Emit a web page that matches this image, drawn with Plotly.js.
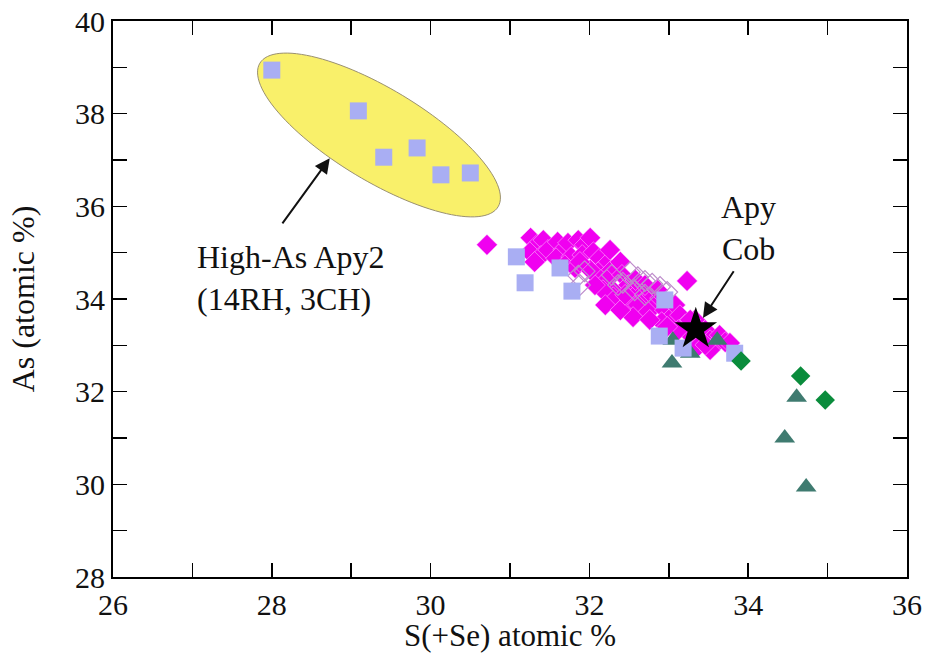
<!DOCTYPE html>
<html><head><meta charset="utf-8">
<script src="https://cdn.plot.ly/plotly-3.0.1.min.js"></script>
<style>html,body{margin:0;padding:0;background:#fff}</style>
</head><body><div id="chart" style="width:930px;height:668px"></div>
<script>
// Magenta filled diamonds
const apyMagX = [30.71,31.26,31.34,31.42,31.25,31.39,31.48,31.31,31.60,31.67,31.73,31.58,31.77,31.69,31.86,31.94,32.01,31.91,32.05,31.82,32.13,32.20,32.11,32.26,32.28,32.22,32.39,32.41,32.49,32.32,32.51,32.64,32.70,32.61,32.79,32.83,32.74,32.89,32.95,33.02,32.91,33.08,33.14,33.20,33.27,33.12,33.33,33.39,33.46,33.52,33.58,33.64,33.71,33.23,32.30,32.17,32.07,32.01,33.36,33.52,33.77,32.55,32.20,32.39,32.98,32.76,32.45,32.58,31.88,32.70,32.86,33.27,33.46];
const apyMagY = [35.17,35.32,35.17,35.27,35.01,34.93,35.06,34.80,35.23,35.06,35.21,34.88,34.91,34.73,35.27,35.17,35.32,34.95,35.01,34.67,34.88,34.73,34.58,35.06,34.63,34.41,34.80,34.52,34.30,34.15,33.98,34.19,33.98,33.87,34.09,33.87,33.72,34.02,33.76,33.59,33.50,33.87,33.65,33.44,33.22,33.33,33.55,33.16,33.33,33.11,33.01,33.22,33.07,34.39,34.04,34.19,34.30,34.63,32.96,32.90,33.05,33.61,33.87,33.76,33.40,33.55,34.09,34.41,34.80,34.30,34.19,33.55,33.01];
// Open diamonds
const apyOpenX = [31.86,31.94,31.88,32.51,32.61,32.70,32.79,32.89,32.98,32.42,32.57,32.70,32.28,32.36];
const apyOpenY = [34.50,34.60,34.30,34.58,34.47,34.39,34.33,34.26,34.15,34.35,34.19,34.09,34.52,34.30];
// Lavender squares
const sqX = [28.00,29.09,29.41,29.83,30.13,30.50,31.08,31.19,31.63,31.78,32.95,32.88,33.18,33.83];
const sqY = [38.94,38.06,37.06,37.26,36.68,36.72,34.91,34.35,34.67,34.17,33.98,33.20,32.94,32.83];
// Teal triangles
const triX = [33.04,33.05,33.61,33.27,34.61,34.46,34.73];
const triY = [32.62,33.11,33.11,32.83,31.88,31.00,29.94];
// Green diamonds
const grnX = [33.91,34.66,34.97];
const grnY = [32.66,32.34,31.82];
// Apy Cob star
const starX = [33.34];
const starY = [33.35];

const xRange = [26, 36], yRange = [28, 40];
const tickVals = [26,28,30,32,34,36];
const yTickVals = [28,30,32,34,36,38,40];
const xTitle = 'S(+Se) atomic %';
const yTitle = 'As (atomic %)';

// Ellipse (decoration): tips in data coords, minor semi-axis in px
const ellTipA = [27.85, 39.09], ellTipB = [30.85, 35.99], ellMinorPx = 46;

const W = 930, H = 668, mL = 113, mR = 23, mT = 21, mB = 91;
const kx = (W - mL - mR) / (xRange[1] - xRange[0]);
const ky = (H - mT - mB) / (yRange[1] - yRange[0]);
function ellipsePath() {
  const ax = ellTipA[0]*kx, ay = -ellTipA[1]*ky, bx = ellTipB[0]*kx, by = -ellTipB[1]*ky;
  const cx = (ax+bx)/2, cy = (ay+by)/2;
  const a = Math.hypot(bx-ax, by-ay)/2;
  const ang = Math.atan2(by-ay, bx-ax);
  const ux = Math.cos(ang), uy = Math.sin(ang), vx = -uy, vy = ux;
  let p = '';
  for (let i = 0; i <= 120; i++) {
    const t = i/120*2*Math.PI;
    const px = cx + a*Math.cos(t)*ux + ellMinorPx*Math.sin(t)*vx;
    const py = cy + a*Math.cos(t)*uy + ellMinorPx*Math.sin(t)*vy;
    p += (i===0?'M':'L') + (px/kx).toFixed(4) + ',' + (-py/ky).toFixed(4) + ' ';
  }
  return p + 'Z';
}

const serif = '"Liberation Serif"';
const traces = [
  {x: apyMagX, y: apyMagY, mode: 'markers', type: 'scatter',
   marker: {symbol: 'diamond', size: 16, color: '#F000F0', line: {color: 'rgba(255,220,255,0.8)', width: 0.6}}},
  {x: apyOpenX, y: apyOpenY, mode: 'markers', type: 'scatter',
   marker: {symbol: 'diamond-open', size: 16, color: '#BE8CCB', line: {color: '#BE8CCB', width: 1.2}}},
  {x: triX, y: triY, mode: 'markers', type: 'scatter',
   marker: {symbol: 'triangle-up', size: 18, color: '#3F7B70', line: {width: 0}}},
  {x: sqX, y: sqY, mode: 'markers', type: 'scatter',
   marker: {symbol: 'square', size: 17, color: '#A9AEF3', line: {width: 0}}},
  {x: grnX, y: grnY, mode: 'markers', type: 'scatter',
   marker: {symbol: 'diamond', size: 15, color: '#0A8C3C', line: {width: 0}}},
  {x: starX, y: starY, mode: 'markers', type: 'scatter',
   marker: {symbol: 'star', size: 32, color: '#000000', line: {width: 0}}}
];

const axisCommon = {
  showgrid: false, zeroline: false, showline: true, linecolor: '#000', linewidth: 2,
  mirror: 'ticks', ticks: 'inside', ticklen: 14, tickwidth: 1.5, tickcolor: '#000',
  tickfont: {family: serif, size: 30, color: '#111'},
  minor: {ticks: 'inside', ticklen: 14, tickwidth: 1.5, tickcolor: '#000', dtick: 1, showgrid: false}
};

const layout = {
  width: W, height: H, margin: {l: mL, r: mR, t: mT, b: mB},
  paper_bgcolor: '#fff', plot_bgcolor: '#fff', showlegend: false,
  font: {family: serif},
  xaxis: Object.assign({}, axisCommon, {range: xRange, tickvals: tickVals, ticktext: tickVals.map(String),
    minor: Object.assign({}, axisCommon.minor, {tick0: 26})}),
  yaxis: Object.assign({}, axisCommon, {range: yRange, tickvals: yTickVals, ticktext: yTickVals.map(String),
    minor: Object.assign({}, axisCommon.minor, {tick0: 28}),
    title: {text: yTitle, font: {family: serif, size: 32, color: '#111'}, standoff: 31}}),
  shapes: [{type: 'path', path: ellipsePath(), xref: 'x', yref: 'y', layer: 'below',
    fillcolor: '#F9F06A', line: {color: '#9A9070', width: 1}}],
  annotations: [
    {x: 0.5, y: -0.105, xref: 'paper', yref: 'paper', xanchor: 'center', yanchor: 'middle',
     text: xTitle, showarrow: false, font: {family: serif, size: 31, color: '#111'}},
    {x: 28.73, y: 37.04, ax: 28.12, ay: 35.60, axref: 'x', ayref: 'y', xref: 'x', yref: 'y',
     text: '', showarrow: true, arrowhead: 2, arrowsize: 1.5, arrowwidth: 2, arrowcolor: '#111'},
    {x: 33.43, y: 33.59, ax: 33.83, ay: 34.63, axref: 'x', ayref: 'y', xref: 'x', yref: 'y',
     text: '', showarrow: true, arrowhead: 2, arrowsize: 1.5, arrowwidth: 2, arrowcolor: '#111'},
    {x: 27.03, y: 34.45, xref: 'x', yref: 'y', xanchor: 'left', yanchor: 'middle', align: 'left',
     text: 'High-As Apy2<br>(14RH, 3CH)', showarrow: false, font: {family: serif, size: 32, color: '#111'}},
    {x: 34.0, y: 35.53, xref: 'x', yref: 'y', xanchor: 'center', yanchor: 'middle', align: 'center',
     text: 'Apy<br>Cob', showarrow: false, font: {family: serif, size: 32, color: '#111'}}
  ]
};

Plotly.newPlot('chart', traces, layout, {displayModeBar: false, staticPlot: true});
</script>
</body></html>
